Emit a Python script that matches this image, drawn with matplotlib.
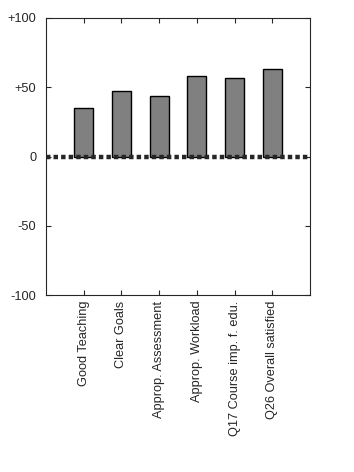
import matplotlib
matplotlib.use("Agg")
import matplotlib.pyplot as plt

plt.rcParams['font.family'] = ['Liberation Sans', 'DejaVu Sans']

categories = ['Good Teaching', 'Clear Goals', 'Approp. Assessment',
              'Approp. Workload', 'Q17 Course imp. f. edu.', 'Q26 Overall satisfied']
values = [35, 47.5, 43.5, 58, 56.5, 63]
yticks = [-100, -50, 0, 50, 100]
ytick_labels = ['-100', '-50', '0', '+50', '+100']

fig = plt.figure(figsize=(3.54, 4.72), dpi=100)
ax = fig.add_axes([46/354, 1 - 295/472, 264/354, 277/472])

x = list(range(1, len(categories) + 1))
ax.bar(x, values, width=0.5, color='#808080', edgecolor='black', linewidth=1.0, zorder=2)
ax.plot([0, 7], [0, 0], linestyle=(0, (1, 0.7)), color='#262626', linewidth=3.2, zorder=3)

ax.set_xlim(0, 7)
ax.set_ylim(-100, 100)
ax.set_xticks(x)
ax.set_xticklabels(categories, rotation=90, fontsize=9.2, color='#262626')
ax.set_yticks(yticks)
ax.set_yticklabels(ytick_labels, fontsize=9.2, color='#262626')
ax.tick_params(direction='in', top=True, right=True, length=3.5, width=0.8, color='#262626')
ax.tick_params(axis='y', pad=7)
ax.tick_params(axis='x', pad=4)
for s in ax.spines.values():
    s.set_color('#262626')
    s.set_linewidth(0.8)

fig.savefig('out.png', dpi=100)
